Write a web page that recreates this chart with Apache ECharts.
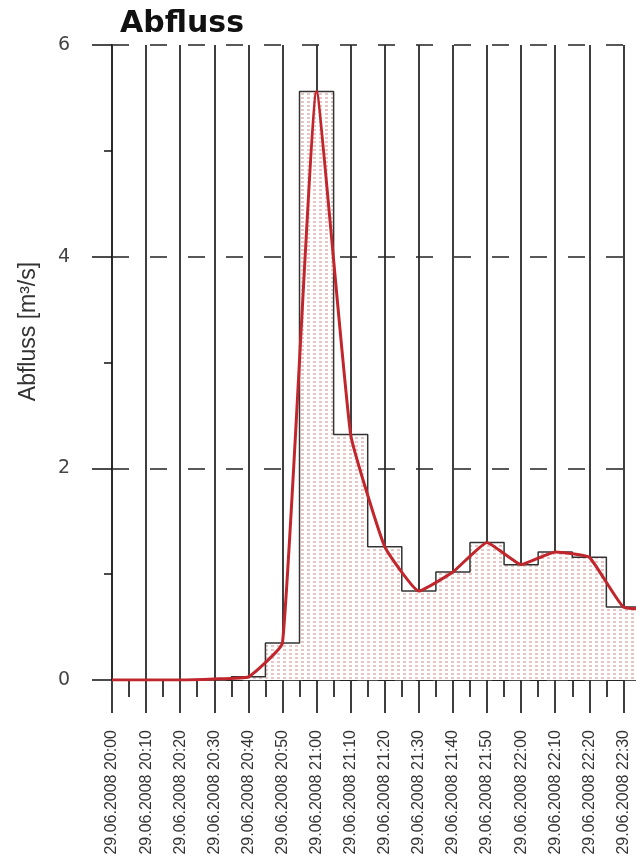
<!DOCTYPE html>
<html><head><meta charset="utf-8">
<script src="https://cdn.jsdelivr.net/npm/echarts@6/dist/echarts.min.js"></script>
<style>html,body{margin:0;padding:0;background:#fff}#c{width:636px;height:856px}</style>
</head><body><div id="c"></div>
<script>
// minutes after 29.06.2008 20:00
const minutes = [0, 10, 20, 30, 40, 50, 60, 70, 80, 90, 100, 110, 120, 130, 140, 150, 160];
const tickLabels = ['29.06.2008 20:00', '29.06.2008 20:10', '29.06.2008 20:20', '29.06.2008 20:30',
  '29.06.2008 20:40', '29.06.2008 20:50', '29.06.2008 21:00', '29.06.2008 21:10', '29.06.2008 21:20',
  '29.06.2008 21:30', '29.06.2008 21:40', '29.06.2008 21:50', '29.06.2008 22:00', '29.06.2008 22:10',
  '29.06.2008 22:20', '29.06.2008 22:30', '29.06.2008 22:40'];
// discharge [m3/s]
const discharge = [0, 0, 0, 0.01, 0.03, 0.35, 5.56, 2.32, 1.26, 0.84, 1.02, 1.30, 1.09, 1.21, 1.16, 0.69, 0.67];

const pat = document.createElement('canvas');
pat.width = 6; pat.height = 4;
const pc = pat.getContext('2d');
pc.fillStyle = '#fff'; pc.fillRect(0, 0, 6, 4);
pc.fillStyle = 'rgba(205,140,140,0.5)';
pc.fillRect(1, 1, 3, 2);

const pts = minutes.map((m, i) => [m, discharge[i]]);
const chart = echarts.init(document.getElementById('c'), null, {renderer: 'canvas'});
chart.setOption({
  animation: false,
  backgroundColor: '#fff',
  title: {
    text: 'Abfluss', left: 115, top: 4,
    textStyle: {fontFamily: 'DejaVu Sans', fontWeight: 'bold', fontSize: 30, color: '#111'}
  },
  grid: {left: 112, top: 45, bottom: 176, right: -21.5, outerBoundsMode: 'none', containLabel: false},
  xAxis: {
    type: 'value', min: 0, max: 160, interval: 10,
    axisLine: {show: true, lineStyle: {color: '#111', width: 1.5}},
    axisTick: {show: true, length: 33, lineStyle: {color: '#2a2a2a', width: 1.8}},
    minorTick: {show: true, splitNumber: 2, length: 17, lineStyle: {color: '#2a2a2a', width: 1.8}},
    splitLine: {show: true, lineStyle: {color: '#2a2a2a', width: 1.8, type: 'solid'}},
    axisLabel: {
      rotate: 90, margin: 50, fontSize: 16, color: '#333',
      fontFamily: '"Liberation Sans", Arial, sans-serif',
      formatter: v => { const i = minutes.indexOf(v); return i >= 0 ? tickLabels[i] : ''; }
    }
  },
  yAxis: {
    type: 'value', min: 0, max: 6, interval: 2,
    name: 'Abfluss [m³/s]', nameLocation: 'middle', nameGap: 72, nameRotate: 90,
    nameTextStyle: {fontSize: 23, color: '#333', fontFamily: '"Liberation Sans", Arial, sans-serif', padding: [0, 0, 0, 62]},
    axisLine: {show: true, lineStyle: {color: '#2a2a2a', width: 1.8}},
    axisTick: {show: true, length: 20, lineStyle: {color: '#111', width: 1.5}},
    minorTick: {show: true, splitNumber: 2, length: 8, lineStyle: {color: '#111', width: 1.5}},
    splitLine: {show: true, lineStyle: {color: '#222', width: 1.5, type: [17, 21]}},
    axisLabel: {margin: 42, fontSize: 19, color: '#444', fontFamily: 'DejaVu Sans'}
  },
  series: [
    {
      type: 'line', step: 'middle', data: pts, symbol: 'none', z: 2,
      lineStyle: {color: '#333', width: 1.5},
      areaStyle: {color: {image: pat, repeat: 'repeat'}, opacity: 1}
    },
    {
      type: 'line', data: pts, symbol: 'none', smooth: 0.12, z: 3,
      lineStyle: {color: '#c0262c', width: 3}
    }
  ]
});
</script></body></html>
